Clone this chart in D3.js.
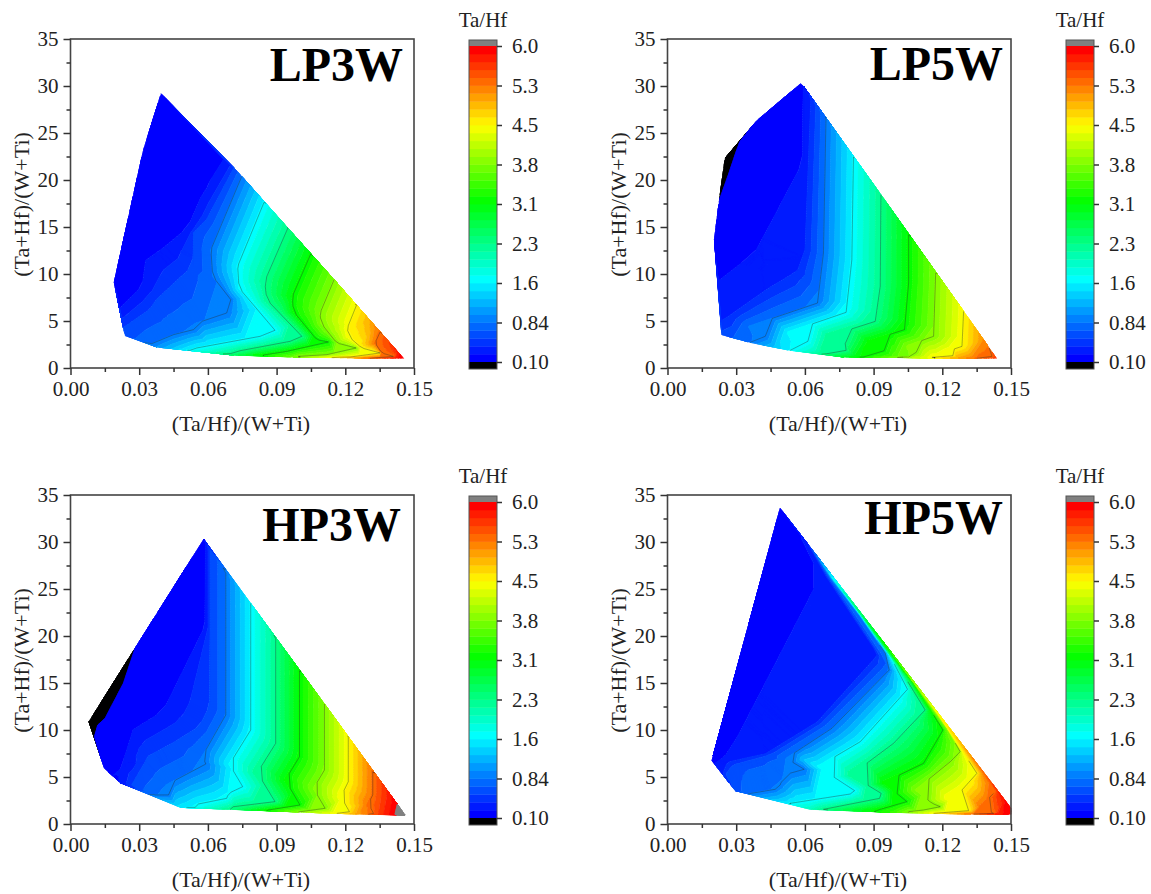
<!DOCTYPE html>
<html>
<head>
<meta charset="utf-8">
<script src="https://cdn.jsdelivr.net/npm/d3@7"></script>
<style>
  html,body{margin:0;padding:0;background:#fff;}
  svg{display:block;}
  text{font-family:"Liberation Serif",serif;fill:#222;}
</style>
</head>
<body>
<div id="svg"></div>
<script>
//tick labels
const xTicks = [0,0.03,0.06,0.09,0.12,0.15];
const xMinor = [0.015,0.045,0.075,0.105,0.135];
const yTicks = [0,5,10,15,20,25,30,35];
const yMinor = [2.5,7.5,12.5,17.5,22.5,27.5,32.5];
const barTicks = [0.1,0.8375,1.575,2.3125,3.05,3.7875,4.525,5.2625,6];
const barLabels = ["0.10","0.84","1.6","2.3","3.1","3.8","4.5","5.3","6.0"];
const lineLevels = [0.84,1.6,2.3,3.1,3.8,4.5,5.3];

//values: outline in perimeter order, then one source line per contour
const lp3wX = [
  .0396,.0319,.0191,.0215,.0231,.0239,.0355,.0377,.0522,.0697,.0711,.0842,.0973,.0995,.1221,.1308,.1454,
  .1352,.1248,.1151,.1049,.0949,.0845,.0748,.0714,.0682,
  .0682,.0581,.0522,.0420,.0333,.0319,.0215,
  .0714,.0595,.0537,.0537,.0377,.0348,.0231,
  .0748,.0613,.0621,.0700,.0682,.0544,.0537,.0450,.0355,
  .0845,.0730,.0736,.0893,.0828,.0551,.0522,
  .0949,.0848,.0857,.1010,.0959,.0741,.0697,
  .1049,.0969,.0973,.1075,.1126,.0944,.0842,
  .1151,.1090,.1093,.1163,.1247,.1119,.0995,
  .1248,.1209,.1213,.1272,.1352,.1221,
  .1352,.1330,.1359,.1410,.1308
];
const lp3wY = [
  29.18,23.2,9.11,6.21,4.26,3.44,2.59,2.23,1.88,1.52,1.38,1.38,1.17,1.24,1.17,1.03,1.03,
  3.83,6.63,9.40,12.13,14.89,17.62,20.39,21.28,21.81,
  21.81,17.91,14.72,12.77,11.35,8.69,6.21,
  21.28,15.78,14.36,10.82,7.27,6.21,4.26,
  20.39,12.59,9.75,7.27,5.85,4.72,4.08,3.55,2.59,
  17.62,10.82,8.51,4.01,3.37,2.13,1.88,
  14.89,9.22,7.27,3.37,2.84,1.84,1.52,
  12.13,7.62,6.03,3.01,2.77,1.77,1.38,
  9.40,5.85,4.79,2.66,2.13,1.42,1.24,
  6.63,4.26,3.37,2.13,1.60,1.17,
  3.83,2.66,1.60,1.24,1.03
];
const lp3wZ = [
  .2,.2,.2,.25,.55,.6,.84,1.0,1.6,2.3,2.5,3.1,3.7,3.8,4.5,5.3,5.95,
  5.3,4.5,3.8,3.1,2.3,1.6,.84,.55,.25,
  .25,.25,.25,.25,.25,.25,.25,
  .55,.55,.55,.55,.55,.55,.55,
  .84,.84,.84,.84,.84,.84,.84,.84,.84,
  1.6,1.6,1.6,1.6,1.6,1.6,1.6,
  2.3,2.3,2.3,2.3,2.3,2.3,2.3,
  3.1,3.1,3.1,3.1,3.1,3.1,3.1,
  3.8,3.8,3.8,3.8,3.8,3.8,3.8,
  4.5,4.5,4.5,4.5,4.5,4.5,
  5.3,5.3,5.3,5.3,5.3
];

const lp5wX = [
  .0582,.0390,.0317,.0252,.0227,.0205,.0226,.0233,.0237,.0361,.0536,.0696,.0769,.0856,.1053,.1155,.1351,.1436,
  .1405,.1293,.1171,.1053,.0932,.0812,.0692,.0623,.0594,
  .0317,.0300,.0266,.0227,
  .0594,.0594,.0393,.0441,.0325,.0226,
  .0623,.0597,.0565,.0434,.0281,.0233,
  .0692,.0681,.0655,.0354,.0376,.0427,.0361,
  .0812,.0805,.0780,.0529,.0550,.0613,.0536,
  .0932,.0929,.0907,.0703,.0732,.0776,.0747,.0780,.0696,
  .1053,.1053,.1035,.0878,.0900,.0946,.0856,
  .1171,.1162,.1048,.1086,.1053,
  .1293,.1286,.1220,.1246,.1155,
  .1405,.1417,.1351
];
const lp5wY = [
  30.25,26.31,24.11,22.34,17.91,13.65,9.22,5.14,3.55,2.73,1.88,1.52,1.17,1.17,1.17,1.13,1.03,1.03,
  2.13,6.03,10.11,14.18,18.44,22.45,26.42,28.72,29.96,
  24.11,23.05,20.57,17.91,
  29.96,21.81,12.59,10.28,11.10,9.22,
  28.72,12.59,10.46,8.51,5.85,5.14,
  26.42,12.23,6.91,4.43,3.55,3.37,2.73,
  22.45,11.52,5.92,3.83,3.19,2.84,1.88,
  18.44,8.69,4.96,3.37,2.66,2.59,2.13,1.88,1.52,
  14.18,9.04,4.08,2.84,2.30,1.84,1.17,
  10.11,3.37,2.38,1.67,1.17,
  6.03,2.30,1.77,1.31,1.13,
  2.13,1.24,1.03
];
const lp5wZ = [
  .2,.15,.1,-.2,.1,.15,.25,.38,.6,.84,1.6,2.3,2.8,3.1,3.8,4.5,5.3,5.6,
  5.3,4.5,3.8,3.1,2.3,1.6,.84,.38,.25,
  .1,.1,.1,.1,
  .25,.25,.25,.25,.25,.25,
  .38,.38,.38,.38,.38,.38,
  .84,.84,.84,.84,.84,.84,.84,
  1.6,1.6,1.6,1.6,1.6,1.6,1.6,
  2.3,2.3,2.3,2.3,2.3,2.3,2.3,2.3,2.3,
  3.1,3.1,3.1,3.1,3.1,3.1,3.1,
  3.8,3.8,3.8,3.8,3.8,
  4.5,4.5,4.5,4.5,4.5,
  5.3,5.3,5.3
];

const hp3wX = [
  .0582,.0282,.0081,.0105,.0148,.0217,.0268,.0370,.0479,.0544,.0697,.0864,.0995,.1163,.1301,.1417,.1461,.1427,
  .1320,.1213,.1109,.1000,.0896,.0787,.0678,.0610,.0591,
  .0282,.0231,.0151,.0119,.0105,
  .0591,.0591,.0406,.0275,.0239,.0253,.0188,
  .0610,.0610,.0566,.0450,.0340,.0290,.0268,
  .0678,.0678,.0576,.0591,.0418,.0428,.0370,
  .0787,.0787,.0694,.0752,.0690,.0682,.0559,.0544,
  .0896,.0896,.0816,.0893,.0711,.0697,
  .1000,.1000,.0938,.1002,.0864,
  .1109,.1109,.1061,.1112,.0995,
  .1213,.1213,.1181,.1218,.1163,
  .1320,.1320,.1301,.1323,.1301,
  .1427,.1417
];
const hp3wY = [
  30.28,18.69,10.89,9.29,5.92,4.40,4.15,3.09,1.77,1.77,1.56,1.49,1.28,1.13,1.03,1.03,.96,2.09,
  5.57,9.22,12.77,16.31,19.75,23.47,26.67,29.15,29.68,
  18.69,14.96,11.24,10.53,9.29,
  29.68,20.99,11.95,10.0,7.16,6.45,5.21,
  29.15,12.48,10.35,8.58,7.16,5.04,4.15,
  26.67,11.60,7.23,6.38,4.15,3.09,3.09,
  23.47,10.0,6.35,3.97,3.26,2.73,2.13,1.77,
  19.75,8.58,5.46,2.38,1.84,1.56,
  16.31,7.16,4.68,2.02,1.49,
  12.77,5.74,3.79,1.67,1.28,
  9.22,4.50,2.91,1.31,1.13,
  5.57,3.09,2.20,1.13,1.03,
  2.09,1.03
];
const hp3wZ = [
  .2,.1,-.3,.1,.2,.25,.55,.84,1.5,1.6,2.3,3.1,3.8,4.5,5.3,6,6.2,6,
  5.3,4.5,3.8,3.1,2.3,1.6,.84,.55,.25,
  .1,.1,.1,.1,.1,
  .25,.25,.25,.25,.25,.25,.25,
  .55,.55,.55,.55,.55,.55,.55,
  .84,.84,.84,.84,.84,.84,.84,
  1.6,1.6,1.6,1.6,1.6,1.6,1.6,1.6,
  2.3,2.3,2.3,2.3,2.3,2.3,
  3.1,3.1,3.1,3.1,3.1,
  3.8,3.8,3.8,3.8,3.8,
  4.5,4.5,4.5,4.5,4.5,
  5.3,5.3,5.3,5.3,5.3,
  6,6
];

const hp5wX = [
  .0492,.0194,.0296,.0364,.0529,.0536,.0623,.0681,.0929,.0987,.1053,.1162,.1337,.1500,.1500,.1373,
  .1185,.1067,.0936,.0798,.0722,.0652,.0638,.0616,.0587,
  .0587,.0681,.0310,.0252,.0208,
  .0616,.0692,.0900,.0914,.0652,.0427,.0259,.0245,
  .0638,.0703,.0922,.0951,.0681,.0470,.0303,.0266,
  .0652,.0713,.0842,.0951,.0968,.0718,.0518,.0597,.0507,.0492,.0470,.0364,
  .0722,.0844,.0970,.1048,.0842,.0657,.0817,.0798,.0536,
  .0798,.0907,.1009,.1125,.0987,.0801,.0933,.0926,.0681,
  .0936,.1075,.1203,.1118,.0943,.1045,.0929,
  .1067,.1220,.1278,.1235,.1083,.1155,.1191,.1118,.1053,
  .1185,.1351,.1286,.1223,.1293,.1315,.1162,
  .1373,.1431,.1366,.1424,.1337,
  .0590
];
const hp5wY = [
  33.58,6.74,3.55,3.26,2.27,2.20,1.56,1.56,1.56,1.24,1.31,1.13,1.06,1.03,1.67,5.74,
  11.60,15.32,19.57,23.83,26.13,28.51,28.97,29.68,30.57,
  30.57,26.31,9.29,7.16,6.45,
  29.68,26.31,18.69,17.98,10.89,7.52,6.63,5.74,
  28.97,26.31,18.33,17.09,10.53,7.34,6.10,5.21,
  28.51,26.13,22.06,18.16,16.38,10.18,6.99,5.82,5.21,4.15,3.69,3.26,
  26.13,22.23,17.98,14.33,8.76,6.10,3.55,3.19,2.20,
  23.83,20.11,16.74,12.13,8.58,5.21,3.26,2.73,1.56,
  19.57,14.96,10.0,6.45,4.40,2.38,1.56,
  15.32,10.18,7.69,6.63,3.62,2.20,1.84,1.49,1.31,
  11.60,5.39,3.62,2.73,1.56,1.42,1.13,
  5.74,3.44,1.84,1.13,1.06,
  6.90
];
const hp5wZ = [
  .2,.2,.6,.84,1.5,1.6,2.0,2.3,3.1,3.4,3.8,4.5,5.3,6,6,5.3,
  4.5,3.8,3.1,2.3,1.6,.84,.65,.38,.25,
  .25,.25,.25,.25,.25,
  .38,.38,.38,.38,.38,.38,.38,.38,
  .65,.65,.65,.65,.65,.65,.65,.65,
  .84,.84,.84,.84,.84,.84,.84,.84,.84,.84,.84,.84,
  1.6,1.6,1.6,1.6,1.6,1.6,1.6,1.6,1.6,
  2.3,2.3,2.3,2.3,2.3,2.3,2.3,2.3,2.3,
  3.1,3.1,3.1,3.1,3.1,3.1,3.1,
  3.8,3.8,3.8,3.8,3.8,3.8,3.8,3.8,3.8,
  4.5,4.5,4.5,4.5,4.5,4.5,4.5,
  5.3,5.3,5.3,5.3,5.3,
  1.25
];

//svg intiallization
const w = 1151;
const h = 894;
const plotW = 343.5;
const plotH = 329;
const bandCount = 40;
const meshStep = 2.5;
const stripGap = 4.5;

const svg = d3.select("#svg")
.append("svg")
.attr("width",w)
.attr("height",h)
.attr("viewBox",`0 0 ${w} ${h}`);

//color ramp of the bar, blue->cyan->green->yellow->red
const colorScale = d3.scaleLinear()
.domain([0.1,1.6,3.1,4.55,6])
.range(["#0000ff","#00ffff","#00ff00","#ffff00","#ff0000"]);

const bands = d3.range(bandCount).map(i=>({
  lo:0.1+5.9*i/bandCount,
  hi:0.1+5.9*(i+1)/bandCount,
  color:colorScale(0.1+5.9*i/(bandCount-1))
}));
const allBands = [{lo:-Infinity,hi:0.1,color:"#000"},...bands,{lo:6,hi:Infinity,color:"#808080"}];

//clip one polygon of [x,y,z] against z>=level (sign 1) or z<=level (sign -1)
const clipZ = (poly,level,sign)=>{
  const out = [];
  poly.forEach((p,i)=>{
    const q = poly[(i+1)%poly.length];
    const pIn = sign*(p[2]-level)>=0;
    const qIn = sign*(q[2]-level)>=0;
    if(pIn) out.push(p);
    if(pIn!==qIn){
      const t = (level-p[2])/(q[2]-p[2]);
      out.push([p[0]+t*(q[0]-p[0]),p[1]+t*(q[1]-p[1]),level]);
    }
  });
  return out;
};

//mesh nodes in pixels: extra nodes along outline edges and contour segments,
//so the triangulation follows the read contours instead of cutting across them
const buildMesh = (pts,outlineCount)=>{
  const nodes = [];
  const addEdge = (a,b)=>{
    const n = Math.max(1,Math.round(Math.hypot(b[0]-a[0],b[1]-a[1])/meshStep));
    for(let k=0;k<n;k++){
      const t = k/n;
      nodes.push([a[0]+t*(b[0]-a[0]),a[1]+t*(b[1]-a[1]),a[2]+t*(b[2]-a[2])]);
    }
  };
  for(let i=0;i<outlineCount;i++) addEdge(pts[i],pts[(i+1)%outlineCount]);
  for(let i=outlineCount;i<pts.length;i++){
    const next = pts[i+1];
    if(next && next[2]===pts[i][2]) addEdge(pts[i],next);
    else nodes.push(pts[i]);
  }
  return nodes;
};

const graph = (px,py,xs,ys,zs,outlineCount,name,titleX,titleY,stripEnd)=>{
  const xScale = d3.scaleLinear().domain([0,0.15]).range([px,px+plotW]);
  const yScale = d3.scaleLinear().domain([0,35]).range([py+plotH,py]);
  const g = svg.append("g").attr("class","panel");

  //triangulate the read points and cut every triangle into color bands
  const pts = xs.map((x,i)=>[xScale(x),yScale(ys[i]),zs[i]]);
  const nodes = buildMesh(pts,outlineCount);
  const delaunay = d3.Delaunay.from(nodes);
  const tris = [];
  for(let i=0;i<delaunay.triangles.length;i+=3){
    tris.push([0,1,2].map(k=>nodes[delaunay.triangles[i+k]]));
  }

  allBands.forEach(b=>{
    const p = d3.path();
    tris.forEach(t=>{
      let poly = t;
      if(isFinite(b.lo)) poly = clipZ(poly,b.lo,1);
      if(poly.length && isFinite(b.hi)) poly = clipZ(poly,b.hi,-1);
      if(poly.length<3) return;
      p.moveTo(poly[0][0],poly[0][1]);
      poly.slice(1).forEach(v=>p.lineTo(v[0],v[1]));
      p.closePath();
    });
    g.append("path")
    .attr("d",p.toString())
    .style("fill",b.color)
    .style("stroke",b.color)
    .style("stroke-width",0.5);
  });

  //distance of a pixel from the straight upper edge, only used when the panel has a thin strip there
  const edgeDist = (x,y)=>{
    const a = pts[0];
    const b = pts[stripEnd];
    return Math.abs((b[0]-a[0])*(y-a[1])-(b[1]-a[1])*(x-a[0]))/Math.hypot(b[0]-a[0],b[1]-a[1]);
  };

  //thin contour lines at the labelled levels
  const lines = d3.path();
  lineLevels.forEach(level=>{
    const l = level+1e-6;
    tris.forEach(t=>{
      const hits = [];
      t.forEach((a,i)=>{
        const c = t[(i+1)%3];
        if((a[2]-l)*(c[2]-l)<0){
          const u = (l-a[2])/(c[2]-a[2]);
          hits.push([a[0]+u*(c[0]-a[0]),a[1]+u*(c[1]-a[1])]);
        }
      });
      if(hits.length==2){
        if(stripEnd && edgeDist((hits[0][0]+hits[1][0])/2,(hits[0][1]+hits[1][1])/2)<stripGap) return;
        lines.moveTo(hits[0][0],hits[0][1]);
        lines.lineTo(hits[1][0],hits[1][1]);
      }
    });
  });
  g.append("path")
  .attr("d",lines.toString())
  .style("fill","none")
  .style("stroke","#2a2a2a")
  .style("stroke-opacity",0.55)
  .style("stroke-width",0.7);

  //frame + axes
  g.append("rect")
  .attr("x",px).attr("y",py)
  .attr("width",plotW).attr("height",plotH)
  .style("fill","none")
  .style("stroke","#444")
  .style("stroke-width",1.6);

  const styleAxis = (sel)=>{
    sel.select(".domain").remove();
    sel.selectAll("line").style("stroke","#333").style("stroke-width",1.5);
    sel.selectAll("text").style("font-size","21px").style("font-family",'"Liberation Serif",serif').style("fill","#222");
  };

  g.append("g").attr("transform",`translate(0,${py+plotH})`)
  .call(d3.axisBottom(xScale).tickValues(xTicks).tickFormat(d3.format(".2f")).tickSize(7).tickPadding(6))
  .call(styleAxis);
  g.append("g").attr("transform",`translate(0,${py+plotH})`)
  .call(d3.axisBottom(xScale).tickValues(xMinor).tickFormat("").tickSize(4))
  .call(styleAxis);
  g.append("g").attr("transform",`translate(${px},0)`)
  .call(d3.axisLeft(yScale).tickValues(yTicks).tickSize(7).tickPadding(5))
  .call(styleAxis);
  g.append("g").attr("transform",`translate(${px},0)`)
  .call(d3.axisLeft(yScale).tickValues(yMinor).tickFormat("").tickSize(4))
  .call(styleAxis);

  //axes text
  g.append("text")
  .attr("x",px+170.5).attr("y",py+392)
  .style("text-anchor","middle")
  .style("font-size","22px")
  .text("(Ta/Hf)/(W+Ti)");
  g.append("text")
  .attr("transform",`translate(${px-41.5},${py+165.5}) rotate(270)`)
  .style("text-anchor","middle")
  .style("font-size","22px")
  .text("(Ta+Hf)/(W+Ti)");

  g.append("text")
  .attr("x",titleX).attr("y",titleY)
  .style("text-anchor","end")
  .style("font-size","48px")
  .style("font-weight","bold")
  .style("fill","#000")
  .text(name);

  //color bar
  const barX = px+398.5;
  const barW = 28;
  const barScale = d3.scaleLinear().domain([0.1,6]).range([py+323,py+7]);
  g.selectAll("rect.band")
  .data(bands)
  .enter()
  .append("rect")
  .attr("class","band")
  .attr("x",barX)
  .attr("y",d=>barScale(d.hi))
  .attr("width",barW)
  .attr("height",d=>barScale(d.lo)-barScale(d.hi)+0.4)
  .style("fill",d=>d.color);
  g.append("rect").attr("x",barX).attr("y",py+1).attr("width",barW).attr("height",6).style("fill","#808080");
  g.append("rect").attr("x",barX).attr("y",py+323).attr("width",barW).attr("height",7).style("fill","#000");
  g.append("rect").attr("x",barX).attr("y",py+1).attr("width",barW).attr("height",329)
  .style("fill","none").style("stroke","#555").style("stroke-width",1);

  g.append("g").attr("transform",`translate(${barX+barW},0)`)
  .call(d3.axisRight(barScale).tickValues(barTicks).tickFormat((d,i)=>barLabels[i]).tickSize(5).tickPadding(10))
  .call(styleAxis);

  g.append("text")
  .attr("x",barX+14).attr("y",py-12)
  .style("text-anchor","middle")
  .style("font-size","21px")
  .text("Ta/Hf");
};

//call graph method
graph(70.5,39,lp3wX,lp3wY,lp3wZ,26,"LP3W",403,81);
graph(667.5,39,lp5wX,lp5wY,lp5wZ,27,"LP5W",1003,80);
graph(70.5,495,hp3wX,hp3wY,hp3wZ,27,"HP3W",401,541);
graph(667.5,495,hp5wX,hp5wY,hp5wZ,25,"HP5W",1003,534,14);
</script>
</body>
</html>
